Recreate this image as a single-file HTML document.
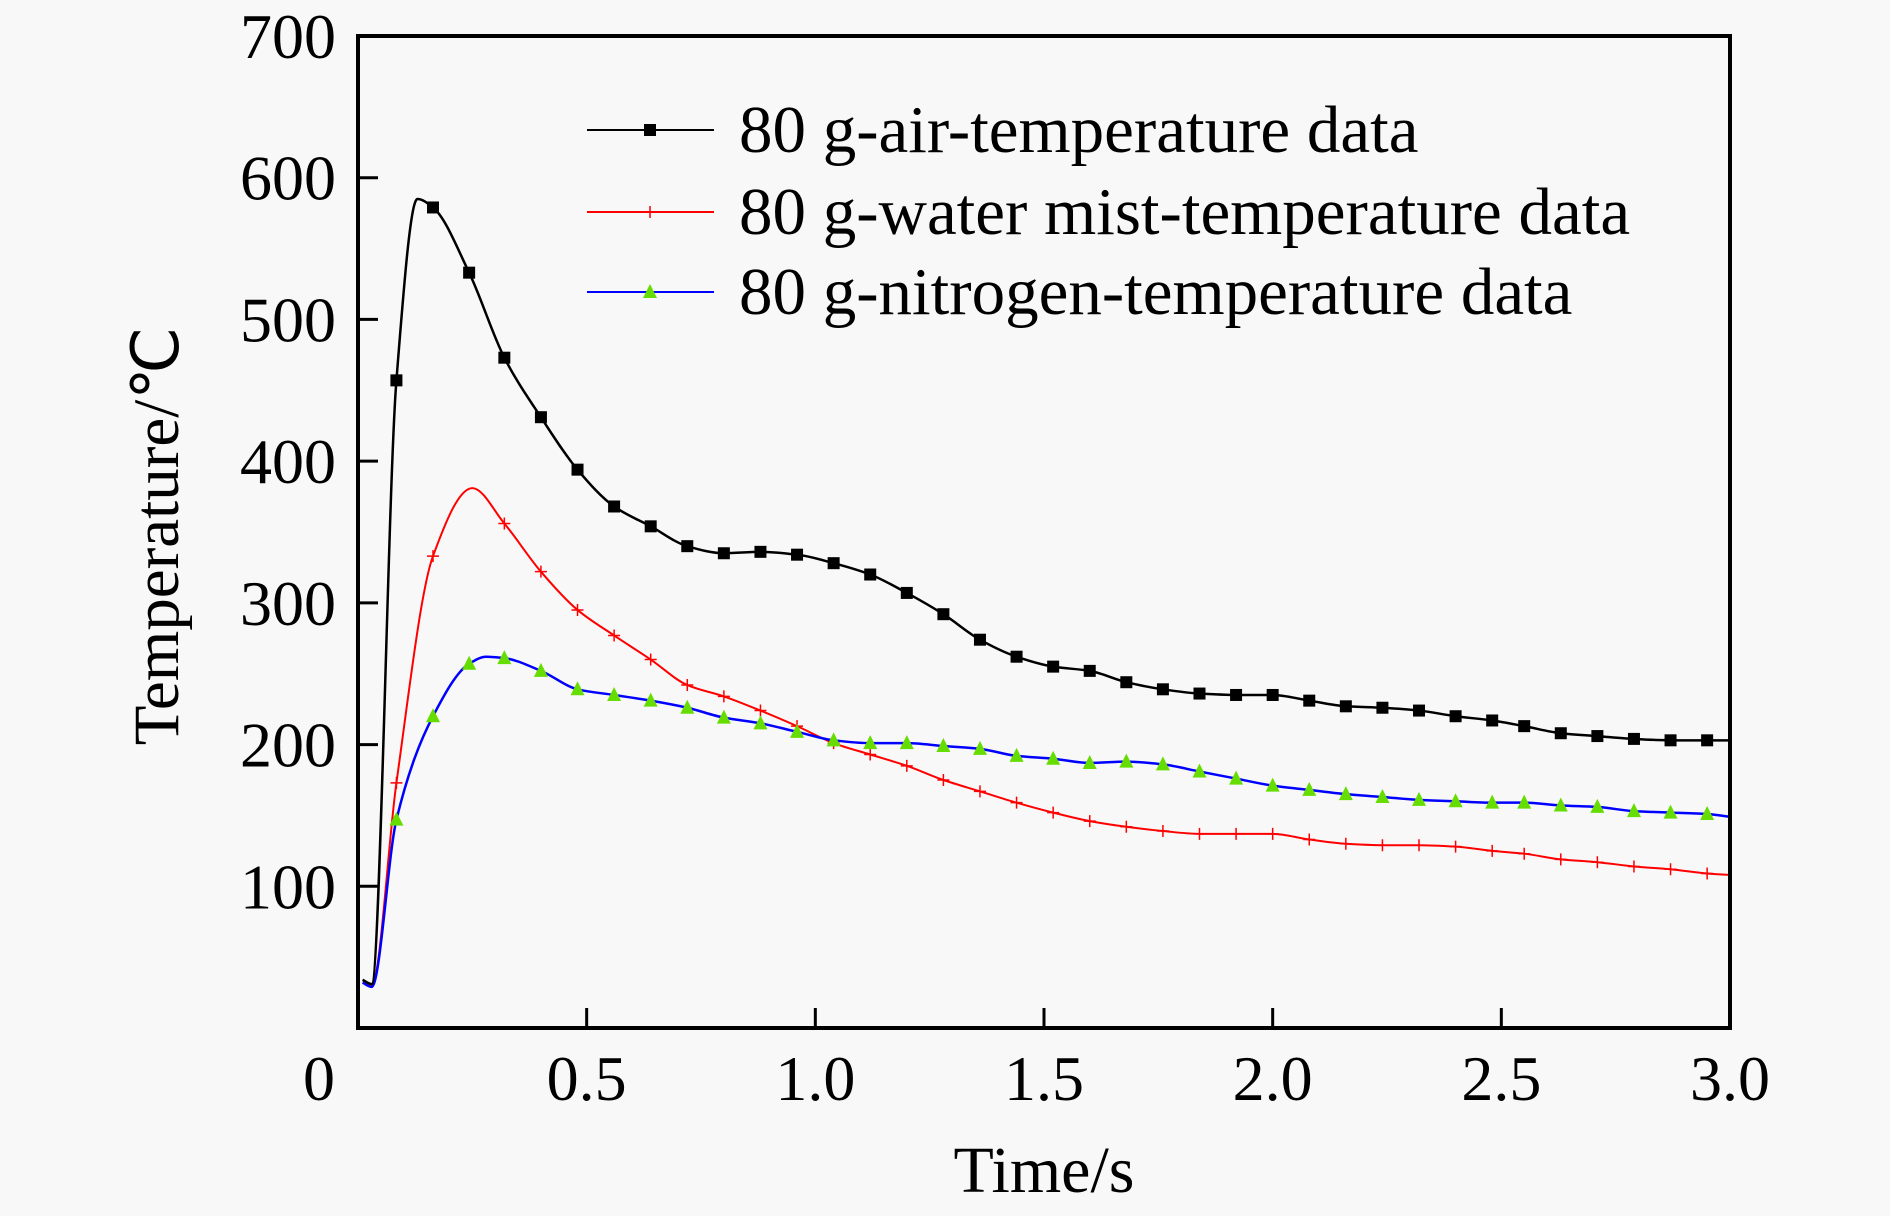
<!DOCTYPE html>
<html><head><meta charset="utf-8"><style>
html,body{margin:0;padding:0;background:#f8f8f8;}
svg{display:block;font-family:"Liberation Serif",serif;}
</style></head><body>
<svg id="chart" width="1890" height="1216" viewBox="0 0 1890 1216"></svg>
<script>
const airT=[0.01,0.03,0.084,0.13,0.164,0.243,0.32,0.40,0.48,0.56,0.64,0.72,0.80,0.88,0.96,1.04,1.12,1.20,1.28,1.36,1.44,1.52,1.60,1.68,1.76,1.84,1.92,2.00,2.08,2.16,2.24,2.32,2.40,2.48,2.55,2.63,2.71,2.79,2.87,2.95,3.0];
const airV=[34,31,457,585,579,533,473,431,394,368,354,340,335,336,334,328,320,307,292,274,262,255,252,244,239,236,235,235,231,227,226,224,220,217,213,208,206,204,203,203,203];
const mistT=[0.01,0.03,0.084,0.164,0.25,0.32,0.40,0.48,0.56,0.64,0.72,0.80,0.88,0.96,1.04,1.12,1.20,1.28,1.36,1.44,1.52,1.60,1.68,1.76,1.84,1.92,2.00,2.08,2.16,2.24,2.32,2.40,2.48,2.55,2.63,2.71,2.79,2.87,2.95,3.0];
const mistV=[32,30,173,333,381,356,322,295,277,260,242,234,224,213,201,193,185,175,167,159,152,146,142,139,137,137,137,133,130,129,129,128,125,123,119,117,114,112,109,108];
const nitroT=[0.01,0.03,0.084,0.164,0.243,0.28,0.32,0.40,0.48,0.56,0.64,0.72,0.80,0.88,0.96,1.04,1.12,1.20,1.28,1.36,1.44,1.52,1.60,1.68,1.76,1.84,1.92,2.00,2.08,2.16,2.24,2.32,2.40,2.48,2.55,2.63,2.71,2.79,2.87,2.95,3.0];
const nitroV=[32,29,147,220,257,262,261,252,239,235,231,226,219,215,209,203,201,201,199,197,192,190,187,188,186,181,176,171,168,165,163,161,160,159,159,157,156,153,152,151,149];
const yTicks=[100,200,300,400,500,600];
const yLabels=["100","200","300","400","500","600","700"];
const yLabelVals=[100,200,300,400,500,600,700];
const xTicks=[0.5,1.0,1.5,2.0,2.5];
const xLabels=["0","0.5","1.0","1.5","2.0","2.5","3.0"];
const xLabelVals=[0,0.5,1.0,1.5,2.0,2.5,3.0];
const legendLabels=["80 g-air-temperature data","80 g-water mist-temperature data","80 g-nitrogen-temperature data"];

const L=358,R=1730,T=36,B=1028;
const X=t=>L+(t/3)*(R-L);
const Y=v=>B-(v/700)*(B-T);
const NS="http://www.w3.org/2000/svg";
const svg=document.getElementById('chart');
function mk(tag,attrs,parent){const e=document.createElementNS(NS,tag);for(const k in attrs)e.setAttribute(k,attrs[k]);(parent||svg).appendChild(e);return e;}
function smooth(ts,vs){
 const n=ts.length,xs=ts.map(X),ys=vs.map(Y),d=[],m=new Array(n);
 for(let i=0;i<n-1;i++)d.push((ys[i+1]-ys[i])/(xs[i+1]-xs[i]));
 m[0]=d[0];m[n-1]=d[n-2];
 for(let i=1;i<n-1;i++){if(d[i-1]*d[i]<=0)m[i]=0;else{const h0=xs[i]-xs[i-1],h1=xs[i+1]-xs[i];const w1=2*h1+h0,w2=h1+2*h0;m[i]=(w1+w2)/(w1/d[i-1]+w2/d[i]);}}
 let p="M"+xs[0]+","+ys[0];
 for(let i=0;i<n-1;i++){const h=(xs[i+1]-xs[i])/3;
  p+=` C${xs[i]+h},${ys[i]+m[i]*h} ${xs[i+1]-h},${ys[i+1]-m[i+1]*h} ${xs[i+1]},${ys[i+1]}`;}
 return p;}

const lineMist=mk('path',{d:smooth(mistT,mistV),fill:'none',stroke:'#ff0000','stroke-width':2});


const lineNitro=mk('path',{d:smooth(nitroT,nitroV),fill:'none',stroke:'#0000ff','stroke-width':2.5});


const lineAir=mk('path',{d:smooth(airT,airV),fill:'none',stroke:'#000','stroke-width':2.5});



function sq(x,y){return mk('rect',{x:x-6,y:y-6,width:12,height:12,fill:'#000'});}
function plus(x,y){return mk('path',{d:`M${x-6},${y}H${x+6}M${x},${y-6}V${y+6}`,stroke:'#ff0000','stroke-width':1.5});}
function tri(x,y){return mk('polygon',{points:`${x},${y-8} ${x-7},${y+6} ${x+7},${y+6}`,fill:'#66dd00'});}
for(let i=0;i<mistT.length;i++){if(mistT[i]<0.06||mistT[i]===0.25||mistT[i]>=3)continue;
 const m=plus(X(mistT[i]),Y(mistV[i]));
 
 }
for(let i=0;i<nitroT.length;i++){if(nitroT[i]<0.06||nitroT[i]===0.28||nitroT[i]>=3)continue;
 const m=tri(X(nitroT[i]),Y(nitroV[i]));
 
 }
for(let i=0;i<airT.length;i++){if(airT[i]<0.06||airT[i]===0.13||airT[i]>=3)continue;
 const m=sq(X(airT[i]),Y(airV[i]));
 
 }

const frame=mk('rect',{x:L,y:T,width:R-L,height:B-T,fill:'none',stroke:'#000','stroke-width':4});


yTicks.forEach(v=>{const t=mk('line',{x1:L,x2:L+20,y1:Y(v),y2:Y(v),stroke:'#000','stroke-width':3});
 
 });
xTicks.forEach(v=>{const t=mk('line',{x1:X(v),x2:X(v),y1:B,y2:B-20,stroke:'#000','stroke-width':3});
 
 });
yLabelVals.forEach((v,i)=>{const t=mk('text',{x:336,y:Y(v)+22,'text-anchor':'end','font-size':64});t.textContent=yLabels[i];
 
 });
xLabelVals.forEach((v,i)=>{const t=mk('text',{x:i===0?319:X(v),y:1100,'text-anchor':'middle','font-size':64});t.textContent=xLabels[i];
 
 });
const xt=mk('text',{x:1044,y:1192,'text-anchor':'middle','font-size':66});xt.textContent='Time/s';


const yt=mk('text',{x:0,y:0,'text-anchor':'middle','font-size':65,transform:'translate(178,536) rotate(-90)'});yt.textContent='Temperature/℃';



const legY=[130,212,292];
const legCol=['#000','#ff0000','#0000ff'];
legendLabels.forEach((s,i)=>{const g=mk('g',{});
 
 
 mk('line',{x1:587,x2:714,y1:legY[i],y2:legY[i],stroke:legCol[i],'stroke-width':2},g);
 if(i===0)mk('rect',{x:644,y:legY[i]-6,width:12,height:12,fill:'#000'},g);
 if(i===1)mk('path',{d:`M644,${legY[i]}H656M650,${legY[i]-6}V${legY[i]+6}`,stroke:'#ff0000','stroke-width':1.5},g);
 if(i===2)mk('polygon',{points:`650,${legY[i]-8} 643,${legY[i]+6} 657,${legY[i]+6}`,fill:'#66dd00'},g);
 const t=mk('text',{x:739,y:legY[i]+22,'font-size':67},g);t.textContent=s;});
</script>
</body></html>
